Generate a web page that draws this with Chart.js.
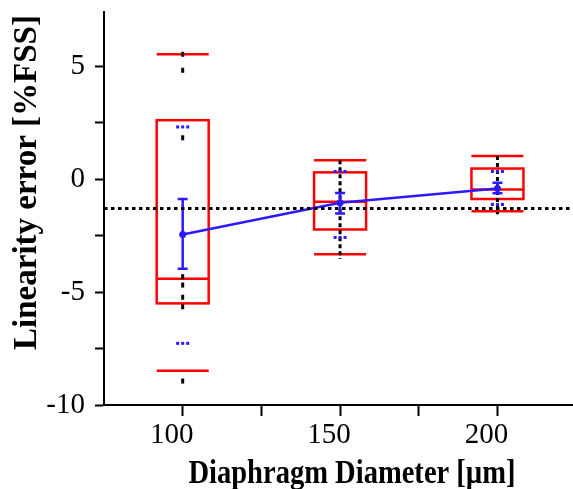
<!DOCTYPE html>
<html>
<head>
<meta charset="utf-8">
<script src="https://cdn.jsdelivr.net/npm/chart.js@4.4.1/dist/chart.umd.min.js"></script>
<style>
  html, body { margin: 0; padding: 0; background: #fff; }
</style>
</head>
<body>
<canvas id="chart" width="573" height="489"></canvas>
<script>
// box plot data per diaphragm diameter
const diameters = [100, 150, 200];
const whiskerHigh = [5.53, 0.84, 1.02];
const boxHigh = [2.61, 0.30, 0.47];
const medians = [-4.41, -1.00, -0.46];
const boxLow = [-5.50, -2.23, -0.88];
const whiskerLow = [-8.48, -3.33, -1.42];
const pctHigh = [2.31, 0.34, 0.34];
const pctLow = [-7.27, -2.58, -1.12];
const means = [-2.45, -1.05, -0.41];
const meanErrHigh = [-0.88, -0.61, -0.16];
const meanErrLow = [-3.97, -1.52, -0.62];
const rangeHigh = [null, 0.84, 1.02];
const rangeLow = [null, -3.54, -1.55];
const samples100 = [5.53, 4.82, 1.83, -4.32, -4.69, -5.23, -5.65, -8.94];
const refLevel = -1.3;
const xTicks = [100, 125, 150, 175, 200];
const yTicks = [-10, -7.5, -5, -2.5, 0, 2.5, 5];

const RED = 'rgb(255, 0, 0)';
const BLUE = 'rgb(45, 25, 255)';
const SERIF = '"Liberation Serif", "Times New Roman", serif';

const boxPlugin = {
    id: 'boxPlot',
    beforeDatasetsDraw(chart) {
        const { ctx, scales: { x, y } } = chart;
        const half = 26;
        ctx.save();
        diameters.forEach(function (d, i) {
            const cx = x.getPixelForValue(d);
            // red box, caps and median
            ctx.strokeStyle = RED;
            ctx.lineWidth = 2.5;
            ctx.setLineDash([]);
            const top = y.getPixelForValue(boxHigh[i]);
            const bot = y.getPixelForValue(boxLow[i]);
            ctx.strokeRect(cx - half, top, half * 2, bot - top);
            [whiskerHigh[i], whiskerLow[i], medians[i]].forEach(function (v) {
                const py = y.getPixelForValue(v);
                ctx.beginPath();
                ctx.moveTo(cx - half, py);
                ctx.lineTo(cx + half, py);
                ctx.stroke();
            });
            // black dashed range
            if (rangeHigh[i] !== null) {
                ctx.strokeStyle = '#000';
                ctx.lineWidth = 3;
                ctx.setLineDash([4, 3]);
                ctx.beginPath();
                ctx.moveTo(cx, y.getPixelForValue(rangeHigh[i]));
                ctx.lineTo(cx, y.getPixelForValue(rangeLow[i]));
                ctx.stroke();
                ctx.setLineDash([]);
            }
            // blue percentile marks
            ctx.fillStyle = BLUE;
            [pctHigh[i], pctLow[i]].forEach(function (v) {
                const py = y.getPixelForValue(v);
                [-5, 0, 5].forEach(function (k) {
                    ctx.fillRect(cx + k - 1.5, py - 1.5, 3, 3);
                });
            });
            // blue error bar of the mean
            ctx.strokeStyle = BLUE;
            ctx.lineWidth = 2.5;
            const et = y.getPixelForValue(meanErrHigh[i]);
            const eb = y.getPixelForValue(meanErrLow[i]);
            ctx.beginPath();
            ctx.moveTo(cx, et); ctx.lineTo(cx, eb);
            ctx.moveTo(cx - 5, et); ctx.lineTo(cx + 5, et);
            ctx.moveTo(cx - 5, eb); ctx.lineTo(cx + 5, eb);
            ctx.stroke();
        });
        ctx.restore();
    }
};

const titlePlugin = {
    id: 'axisTitles',
    afterDraw(chart) {
        const ctx = chart.ctx;
        ctx.save();
        ctx.fillStyle = '#000';
        ctx.font = 'bold 33px ' + SERIF;
        ctx.textAlign = 'center';
        ctx.textBaseline = 'alphabetic';
        ctx.save();
        ctx.translate(352, 483);
        ctx.scale(0.865, 1);
        ctx.fillText('Diaphragm Diameter [µm]', 0, 0);
        ctx.restore();
        ctx.translate(36, 182.5);
        ctx.rotate(-Math.PI / 2);
        ctx.fillText('Linearity error [%FSS]', 0, 0);
        ctx.restore();
    }
};

const tickFont = { family: SERIF, size: 29 };

const ctx = document.getElementById('chart').getContext('2d');
new Chart(ctx, {
    type: 'scatter',
    data: {
        datasets: [
            {
                type: 'line',
                data: [{ x: 75, y: refLevel }, { x: 224, y: refLevel }],
                borderColor: '#000',
                borderWidth: 3,
                borderDash: [3.5, 3.5],
                pointRadius: 0,
            },
            {
                type: 'line',
                data: diameters.map((d, i) => ({ x: d, y: means[i] })),
                borderColor: BLUE,
                backgroundColor: BLUE,
                borderWidth: 2.5,
                pointRadius: 3.5,
                pointBorderWidth: 0,
            },
            {
                data: samples100.map(v => ({ x: diameters[0], y: v })),
                pointStyle: 'line',
                rotation: 90,
                radius: 2.5,
                borderWidth: 3,
                borderColor: '#000',
            },
        ],
    },
    options: {
        responsive: false,
        animation: false,
        layout: { autoPadding: false, padding: { top: 12, left: 0, right: 0, bottom: 0 } },
        plugins: { legend: { display: false }, tooltip: { enabled: false } },
        scales: {
            x: {
                type: 'linear',
                min: 75,
                max: 224,
                afterBuildTicks: s => { s.ticks = xTicks.map(v => ({ value: v })); },
                afterFit: s => { s.height = 84; s.paddingLeft = 0; s.paddingRight = 0; },
                ticks: {
                    callback: v => (v % 50 === 0 ? v : ''),
                    font: tickFont,
                    color: '#000',
                    padding: 2,
                    labelOffset: -11,
                    maxRotation: 0,
                    autoSkip: false,
                },
                grid: { drawOnChartArea: false, tickLength: 11, tickWidth: 2, tickColor: '#000' },
                border: { color: '#000', width: 2 },
            },
            y: {
                min: -10,
                max: 7.4,
                afterBuildTicks: s => { s.ticks = yTicks.map(v => ({ value: v })); },
                afterFit: s => { s.width = 104; s.paddingTop = 0; s.paddingBottom = 0; },
                ticks: {
                    callback: v => (v % 5 === 0 ? v : ''),
                    font: tickFont,
                    color: '#000',
                    padding: 10,
                    autoSkip: false,
                },
                grid: { drawOnChartArea: false, tickLength: 9, tickWidth: 2, tickColor: '#000' },
                border: { color: '#000', width: 2 },
            },
        },
    },
    plugins: [boxPlugin, titlePlugin],
});
</script>
</body>
</html>
